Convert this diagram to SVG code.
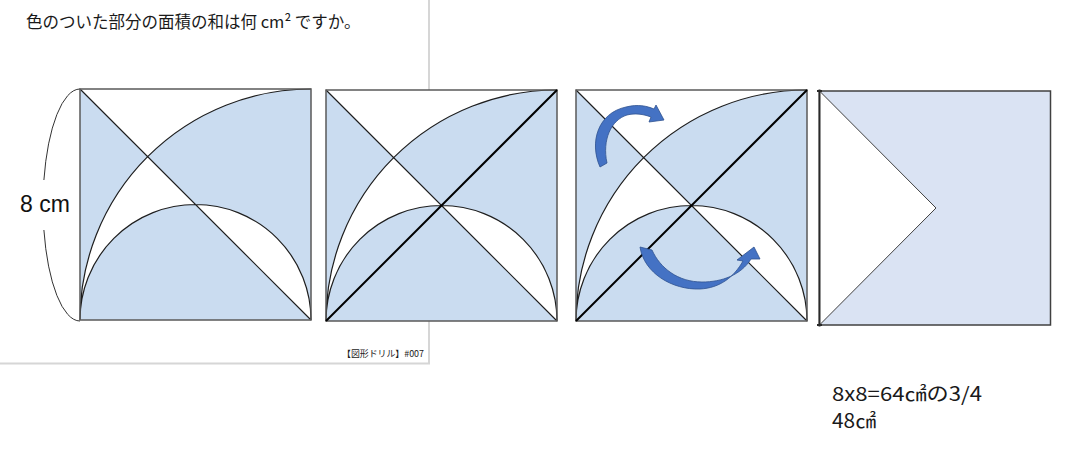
<svg xmlns="http://www.w3.org/2000/svg" xmlns:xlink="http://www.w3.org/1999/xlink" width="1069" height="454" viewBox="0 0 1069 454">
<style>
.bg{fill:#fff;stroke:none}
.shade{fill:#cadcf0;fill-rule:evenodd;stroke:none}
.ln{fill:none;stroke:#1e1e1e;stroke-width:1.2}
.diag2{fill:none;stroke:#000;stroke-width:2}
.frame{fill:none;stroke:#5a5a5a;stroke-width:1.5}
.arrow{fill:#4472c4;stroke:#2f528f;stroke-width:0.8;stroke-linejoin:round}
.jp{font-family:"Noto Sans CJK JP","Noto Sans",sans-serif;fill:#1a1a1a}
.panel{fill:none;stroke:#d6d6d6;stroke-width:2}
</style>
<defs>
<g id="fig">
<rect class="bg" x="0" y="0" width="231" height="231"/>
<path class="shade" d="M0,0 L0,231 L231,231 Z M231,231 L0,231 A231,231 0 0 1 231,0 Z M0,231 A115.5,115.5 0 0 1 231,231 Z"/>
<path class="ln" d="M0,0 L231,231 M0,231 A231,231 0 0 1 231,0 M0,231 A115.5,115.5 0 0 1 231,231"/>
<rect class="frame" x="0" y="0" width="231" height="231"/>
</g>
</defs>
<rect x="0" y="0" width="1069" height="454" fill="#fff"/>
<g id="panel">
<path class="panel" d="M429,0 L429,363"/>
<path class="panel" d="M0,363.5 L430,363.5" stroke-width="1.5"/>
</g>
<g id="title">
<text class="jp" x="26" y="28" font-size="16.5">色のついた部分の面積の和は何 cm² ですか。</text>
</g>
<g id="dimension">
<path fill="none" stroke="#333" stroke-width="1" d="M80,89 A37,116 0 0 0 43.9,180 M43.9,230 A37,116 0 0 0 80,321"/>
<text x="20" y="212" font-family="Liberation Sans,Arial,sans-serif" font-size="23" fill="#111">8 cm</text>
</g>
<g id="square1">
<use xlink:href="#fig" transform="translate(80,89)"/>
</g>
<g id="square2">
<use xlink:href="#fig" transform="translate(326,90)"/>
<path class="diag2" d="M326,321 L557,90"/>
</g>
<g id="square3">
<use xlink:href="#fig" transform="translate(576,90)"/>
<path class="diag2" d="M576,321 L807,90"/>
<path class="arrow" d="M600,167 C589,142 598,113 626,107 C638,104 647,106 654,109 L656,105 L664,120 L649,122 L651,117 C643,114 635,113 627,115 C611,120 602,140 607,163 Z"/>
<path class="arrow" d="M640,247 C644,273 672,290 700,289 C720,288 734,277 743,261 L737,260 L754,247 L760,259 L751,259 C741,275 722,282 702,282 C678,282 660,268 652,250 Z"/>
</g>
<g id="square4">
<rect x="819.5" y="91" width="231" height="234" fill="#dae3f3" stroke="#404040" stroke-width="1.5"/>
<polygon points="819.5,91 936,208 819.5,325" fill="#fff" stroke="#404040" stroke-width="1"/>
<path d="M819.5,89.5 L819.5,326.5 M817,91 L822,91 M817,325 L822,325" stroke="#2a2a2a" stroke-width="2" fill="none"/>
</g>
<g id="label">
<text class="jp" x="342" y="357" font-size="9" fill="#333" textLength="82" lengthAdjust="spacingAndGlyphs">【図形ドリル】#007</text>
</g>
<g id="answer">
<text class="jp" x="832" y="401" font-size="19.5" textLength="150" lengthAdjust="spacingAndGlyphs">8x8=64㎠の3/4</text>
<text class="jp" x="832" y="427.5" font-size="19.5" textLength="44" lengthAdjust="spacingAndGlyphs">48㎠</text>
</g>
</svg>
